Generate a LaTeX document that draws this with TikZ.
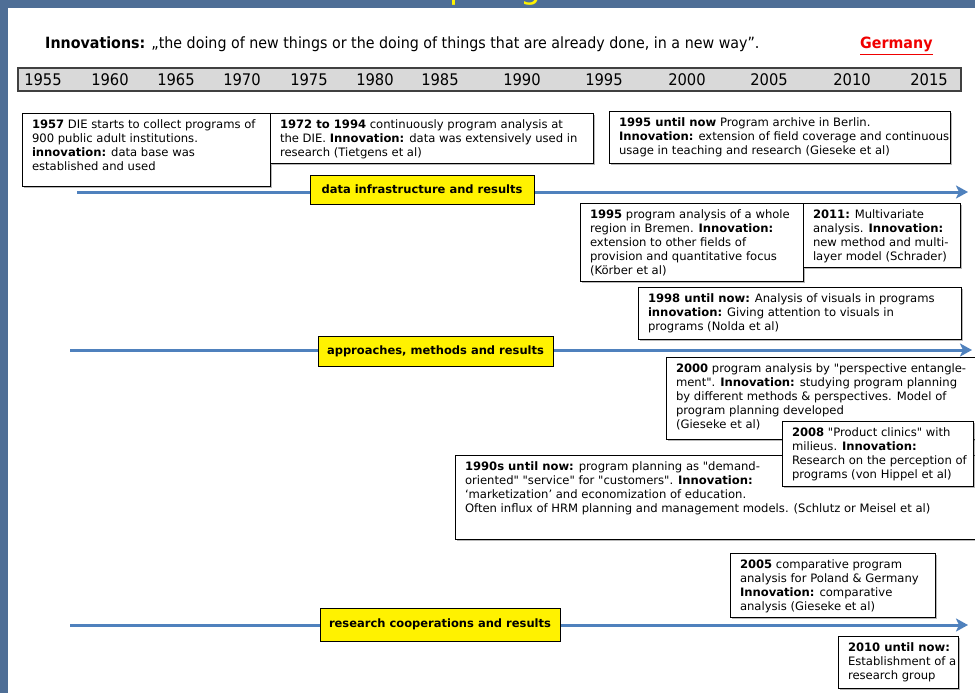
\documentclass[tikz,border=0pt]{standalone}
\usepackage{fontspec}
\setmainfont{DejaVu Sans}[Ligatures=TeXOff]
\newfontfamily\narrowfont[FakeStretch=0.92,Ligatures=TeXOff]{DejaVu Sans}
\newfontfamily\titlefont[LetterSpace=17]{DejaVu Sans}
\usetikzlibrary{arrows.meta,shadows}
\definecolor{bgblue}{HTML}{4E6E96}
\definecolor{lineblue}{HTML}{4F81BD}
\definecolor{bandgray}{HTML}{D9D9D9}
\definecolor{bandedge}{HTML}{404040}
\definecolor{redtxt}{HTML}{F00000}
\tikzset{
  tbox/.style={draw=black, line width=1pt, fill=white, anchor=north west,
    inner xsep=9.5pt, inner ysep=5.5pt,
    font=\fontsize{11.6}{14}\selectfont,
    drop shadow={shadow xshift=1pt, shadow yshift=-1pt, fill=black!55}},
  ylabel/.style={draw=black, line width=1pt, fill=yellow, inner sep=0pt,
    font=\bfseries\fontsize{11.5}{14}\selectfont,
    drop shadow={shadow xshift=1pt, shadow yshift=-1pt, fill=black!70}},
  tline/.style={draw=lineblue, line width=3pt,
    -{Stealth[length=12pt, width=13pt, inset=3pt]}},
  yearlbl/.style={font=\narrowfont\fontsize{16}{16}\selectfont, anchor=base, inner sep=0pt},
}
\newcommand\tb[6]{\node[tbox] (#1) at (#2,#3)
  {\parbox[t][\dimexpr#5pt-11pt\relax][t]{\dimexpr#4pt-19pt\relax}{\begin{tabular}[t]{@{}l@{}}#6\end{tabular}}};}
\begin{document}
\begin{tikzpicture}[x=1pt,y=-1pt]
\useasboundingbox (0,0) rectangle (975,693);
\clip (0,0) rectangle (975,693);
% background
\fill[bgblue] (0,0) rectangle (975,693);
\node[anchor=base west, inner sep=0pt, text=yellow,
  font=\titlefont\fontsize{33}{36}\selectfont] (title) at (449,-1.8) {prog};
\fill[white] (8,8) rectangle (976,694);
% definition line
\node[anchor=base west, inner sep=0pt, font=\narrowfont\fontsize{15.5}{18}\selectfont] (def) at (45,49)
  {\textbf{Innovations:} „the doing of new things or the doing of things that are already done, in a new way”.};
\node[anchor=base west, inner sep=0pt, text=redtxt, font=\narrowfont\bfseries\fontsize{15.5}{18}\selectfont] (germ) at (860,49)
  {\underline{Germany}};
% year band
\node[draw=bandedge, line width=2pt, fill=bandgray, anchor=north west,
  minimum width=943pt, minimum height=23pt, inner sep=0pt] (band) at (17,67) {};
\foreach \yr/\xx in {1955/43,1960/110,1965/176,1970/242,1975/309,1980/375,1985/440,
  1990/522,1995/604,2000/687,2005/769,2010/852,2015/929}
  \node[yearlbl] (y\yr) at (\xx,85.5) {\yr};
% timeline arrows
\coordinate (a1s) at (77,192);  \coordinate (a1e) at (968,192);
\coordinate (a2s) at (70,350);  \coordinate (a2e) at (972,350);
\coordinate (a3s) at (70,625);  \coordinate (a3e) at (968,625);
\draw[tline] (a1s) -- (a1e);
\draw[tline] (a2s) -- (a2e);
\draw[tline] (a3s) -- (a3e);
% yellow labels
\node[ylabel, minimum width=224pt, minimum height=29pt] (lab1) at (422,189.5) {data infrastructure and results};
\node[ylabel, minimum width=235pt, minimum height=30pt] (lab2) at (435.5,351) {approaches, methods and results};
\node[ylabel, minimum width=240pt, minimum height=33pt] (lab3) at (440,624.5) {research cooperations and results};
% boxes
\tb{bA}{22}{113}{248}{73}{\textbf{1957} DIE starts to collect programs of\\ 900 public adult institutions.\\ \textbf{innovation:} data base was\\ established and used}
\tb{bB}{270}{113}{323}{50}{\textbf{1972 to 1994} continuously program analysis at\\ the DIE. \textbf{Innovation:} data was extensively used in\\ research (Tietgens et al)}
\tb{bC}{609}{111}{341}{52}{\textbf{1995 until now} Program archive in Berlin.\\ \textbf{Innovation:} extension of field coverage and continuous\\ usage in teaching and research (Gieseke et al)}
\tb{bD}{580}{203}{223}{78}{\textbf{1995} program analysis of a whole\\ region in Bremen. \textbf{Innovation:}\\ extension to other fields of\\ provision and quantitative focus\\ (Körber et al)}
\tb{bE}{803}{203}{157}{64}{\textbf{2011:} Multivariate\\ analysis. \textbf{Innovation:}\\ new method and multi-\\ layer model (Schrader)}
\tb{bF}{638}{287}{323}{52}{\textbf{1998 until now:} Analysis of visuals in programs\\ \textbf{innovation:} Giving attention to visuals in\\ programs (Nolda et al)}
\tb{bG}{666}{357}{314}{82}{\textbf{2000} program analysis by "perspective entangle-\\ ment". \textbf{Innovation:} studying program planning\\ by different methods \& perspectives. Model of\\ program planning developed\\ (Gieseke et al)}
\tb{bI}{455}{455}{525}{84}{\textbf{1990s until now:} program planning as "demand-\\ oriented" "service" for "customers". \textbf{Innovation:}\\ ‘marketization’ and economization of education.\\ Often influx of HRM planning and management models. (Schlutz or Meisel et al)}
\tb{bH}{782}{421}{191}{65}{\textbf{2008} "Product clinics" with\\ milieus. \textbf{Innovation:}\\ Research on the perception of\\ programs (von Hippel et al)}
\tb{bJ}{730}{553}{205}{64}{\textbf{2005} comparative program\\ analysis for Poland \& Germany\\ \textbf{Innovation:} comparative\\ analysis (Gieseke et al)}
\tb{bK}{838}{636}{120}{52}{\textbf{2010 until now:}\\ Establishment of a\\ research group}
\end{tikzpicture}
\end{document}
